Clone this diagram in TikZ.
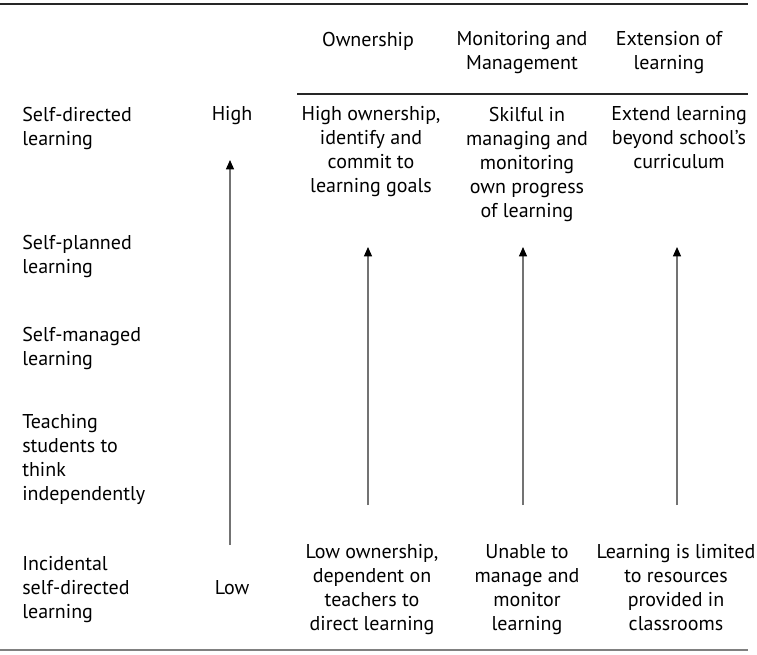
\documentclass[tikz,border=0pt]{standalone}
\usepackage{fontspec}
\setmainfont{PT Sans}
\usetikzlibrary{arrows.meta}
\begin{document}
\begin{tikzpicture}[x=0.75pt,y=-0.75pt,
  txt/.style={font=\fontsize{15}{18}\selectfont, inner sep=0pt, text=black},
  cell/.style={txt, align=center, anchor=north},
  lab/.style={txt, align=left, anchor=north west},
  rule/.style={line width=1.6pt, black!85},
  up/.style={draw=black!55, line width=0.9pt, -{Triangle[length=7pt,width=6pt,color=black]}}]
\useasboundingbox (0,0) rectangle (757,654);
% rules
\coordinate (r1a) at (0,4); \coordinate (r1b) at (748,4);
\coordinate (r2a) at (297,94); \coordinate (r2b) at (748,94);
\coordinate (r3a) at (0,650); \coordinate (r3b) at (748,650);
\draw[rule] (r1a) -- (r1b);
\draw[rule] (r2a) -- (r2b);
\draw[black!50, line width=0.8pt] (r3a) -- (r3b);
% headers
\node[cell] (h1) at (368,31.5) {Ownership};
\node[cell] (h2) at (522,31.5) {Monitoring and\\Management};
\node[cell] (h3) at (669,31.5) {Extension of\\learning};
% left labels
\node[lab] (l1) at (22,106.5) {Self-directed\\learning};
\node[lab] (l2) at (22,234.5) {Self-planned\\learning};
\node[lab] (l3) at (22,326.5) {Self-managed\\learning};
\node[lab] (l4) at (22,414.5) {Teaching\\students to\\think\\independently};
\node[lab] (l5) at (22,556.5) {Incidental\\self-directed\\learning};
% high / low
\node[cell] (hi) at (232,106.5) {High};
\node[cell] (lo) at (232,580.5) {Low};
% top cells
\node[cell] (t1) at (371,106.5) {High ownership,\\identify and\\commit to\\learning goals};
\node[cell] (t2) at (527,106.5) {Skilful in\\managing and\\monitoring\\own progress\\of learning};
\node[cell] (t3) at (679,106.5) {Extend learning\\beyond school's\\curriculum};
% bottom cells
\node[cell] (b1) at (372,544.5) {Low ownership,\\dependent on\\teachers to\\direct learning};
\node[cell] (b2) at (527,544.5) {Unable to\\manage and\\monitor\\learning};
\node[cell] (b3) at (676,544.5) {Learning is limited\\to resources\\provided in\\classrooms};
% arrows
\coordinate (a0s) at (230,545); \coordinate (a0e) at (230,160);
\coordinate (a1s) at (368,505); \coordinate (a1e) at (368,247);
\coordinate (a2s) at (523,505); \coordinate (a2e) at (523,247);
\coordinate (a3s) at (677,505); \coordinate (a3e) at (677,247);
\draw[up] (a0s) -- (a0e);
\draw[up] (a1s) -- (a1e);
\draw[up] (a2s) -- (a2e);
\draw[up] (a3s) -- (a3e);
\end{tikzpicture}
\end{document}
